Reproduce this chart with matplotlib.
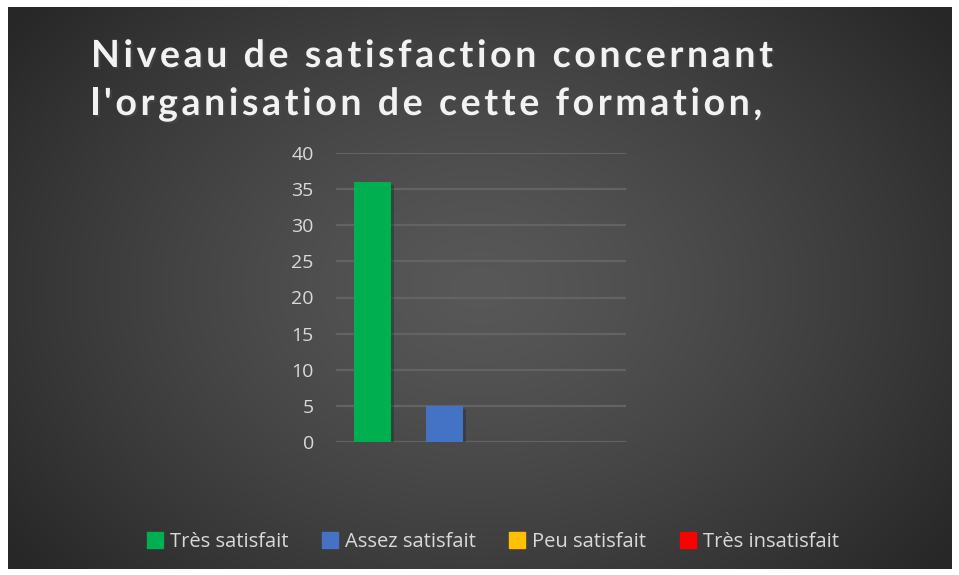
import numpy as np
import matplotlib.pyplot as plt
import matplotlib.patheffects as pe
from matplotlib.patches import Patch
from matplotlib.font_manager import FontProperties
from matplotlib.textpath import text_to_path

# data
categories = ['Très satisfait', 'Assez satisfait', 'Peu satisfait', 'Très insatisfait']
values = [36, 5, 0, 0]
bar_colors = ['#00b050', '#4472c4', '#ffc000', '#ff0000']
yticks = [0, 5, 10, 15, 20, 25, 30, 35, 40]
title_lines = ["Niveau de satisfaction concernant", "l'organisation de cette formation,"]

W, H = 959, 575
fig = plt.figure(figsize=(W / 100, H / 100), dpi=100, facecolor='white')

# dark radial-gradient chart area
bg = fig.add_axes([8 / W, 1 - 569 / H, 944 / W, 562 / H])
yy, xx = np.mgrid[0:1:300j, 0:1:500j]
r = np.sqrt(((xx - 0.5) * 1.0) ** 2 + ((yy - 0.5) * 0.8) ** 2)
r = np.clip(r / 0.62, 0, 1)
shade = 0.345 - (0.345 - 0.155) * r ** 1.3
bg.imshow(np.dstack([shade] * 3), extent=[0, 1, 0, 1], aspect='auto', origin='lower')
bg.axis('off')

ax = fig.add_axes([336 / W, 1 - 442 / H, 290 / W, 289 / H])
ax.set_facecolor('none')
x = np.arange(len(categories))
bars = ax.bar(x, values, width=0.51, color=bar_colors, zorder=3,
              path_effects=[pe.SimplePatchShadow(offset=(2, -2), alpha=0.35), pe.Normal()])
ax.set_xlim(-0.5, len(categories) - 0.5)
ax.set_ylim(0, 40)
ax.set_yticks(yticks)
ax.set_xticks([])
ax.tick_params(axis='y', length=0, pad=16, labelsize=14, labelcolor='#d9d9d9')
for s in ax.spines.values():
    s.set_visible(False)
ax.grid(axis='y', color='#636363', lw=1.6, zorder=0)
for lab in ax.get_yticklabels():
    lab.set_fontfamily('Open Sans')

# title with wide letter spacing, one glyph at a time
tsize = 27
fp = FontProperties(family='Lato', weight='bold', size=tsize)
def width_px(s):
    return text_to_path.get_text_width_height_descent(s, fp, ismath=False)[0] * 100 / 72
hh = width_px('HH')
adv = lambda ch: width_px('H' + ch + 'H') - hh
natural = sum(adv(c) for c in title_lines[0])
spacing = (682 - natural) / (len(title_lines[0]) - 1)
for line, base in zip(title_lines, [67, 115]):
    xp = 91
    for ch in line:
        fig.text(xp / W, 1 - base / H, ch, ha='left', va='baseline', color='#f2f2f2',
                 fontproperties=fp,
                 path_effects=[pe.withSimplePatchShadow(offset=(1.5, -1.5), alpha=0.6)])
        xp += adv(ch) + spacing

handles = [Patch(color=c) for c in bar_colors]
leg = fig.legend(handles, categories, loc='center', bbox_to_anchor=(493 / W, 1 - 542 / H),
                 ncol=4, frameon=False, handlelength=0.8, handleheight=0.8,
                 handletextpad=0.35, columnspacing=1.65, labelcolor='#d9d9d9',
                 prop={'family': 'Open Sans', 'size': 14.5})

fig.savefig('out.png', dpi=100, facecolor='white')
